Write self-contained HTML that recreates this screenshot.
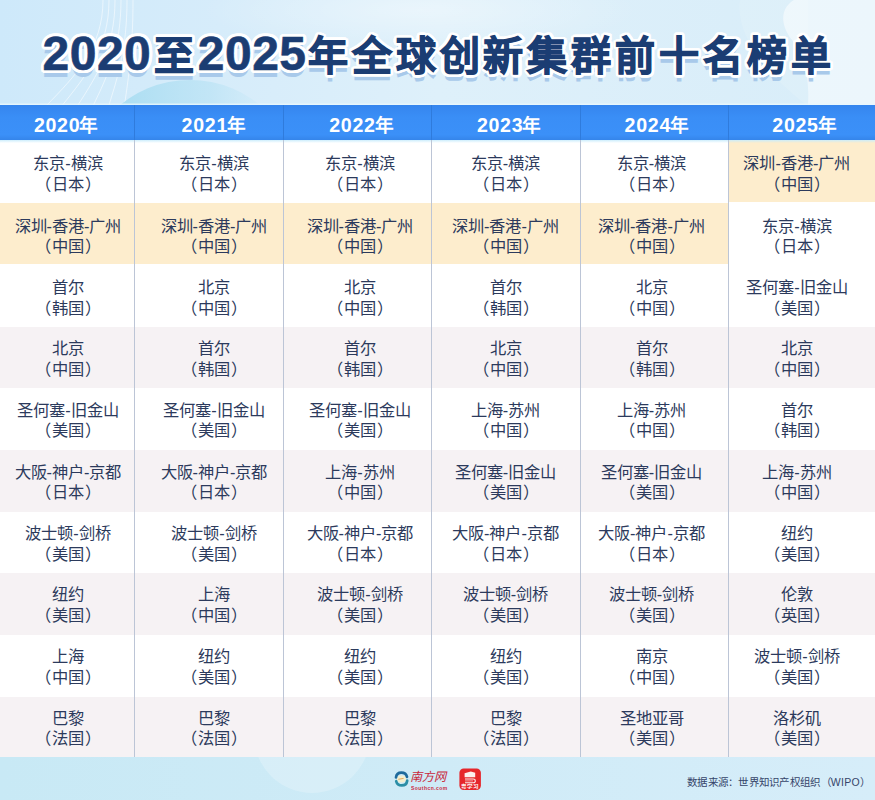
<!DOCTYPE html>
<html lang="zh-CN">
<head>
<meta charset="utf-8">
<title>2020至2025年全球创新集群前十名榜单</title>
<style>
html,body{margin:0;padding:0;}
body{width:875px;height:800px;overflow:hidden;position:relative;background:#d4e9f8;font-family:"Liberation Sans",sans-serif;}
#bg{position:absolute;left:0;top:0;}
#title{position:absolute;left:41.2px;top:21.5px;height:64px;white-space:nowrap;color:#1b3d73;font-weight:900;font-size:40px;line-height:64px;letter-spacing:3.9px;text-shadow:3.20px 0.00px 0 #fff,3.09px 0.83px 0 #fff,2.77px 1.60px 0 #fff,2.26px 2.26px 0 #fff,1.60px 2.77px 0 #fff,0.83px 3.09px 0 #fff,0.00px 3.20px 0 #fff,-0.83px 3.09px 0 #fff,-1.60px 2.77px 0 #fff,-2.26px 2.26px 0 #fff,-2.77px 1.60px 0 #fff,-3.09px 0.83px 0 #fff,-3.20px 0.00px 0 #fff,-3.09px -0.83px 0 #fff,-2.77px -1.60px 0 #fff,-2.26px -2.26px 0 #fff,-1.60px -2.77px 0 #fff,-0.83px -3.09px 0 #fff,-0.00px -3.20px 0 #fff,0.83px -3.09px 0 #fff,1.60px -2.77px 0 #fff,2.26px -2.26px 0 #fff,2.77px -1.60px 0 #fff,3.09px -0.83px 0 #fff,2.00px 0.00px 0 #fff,1.73px 1.00px 0 #fff,1.00px 1.73px 0 #fff,0.00px 2.00px 0 #fff,-1.00px 1.73px 0 #fff,-1.73px 1.00px 0 #fff,-2.00px 0.00px 0 #fff,-1.73px -1.00px 0 #fff,-1.00px -1.73px 0 #fff,-0.00px -2.00px 0 #fff,1.00px -1.73px 0 #fff,1.73px -1.00px 0 #fff,0 7px 0 #a8c9ea;-webkit-text-stroke:1.1px #1b3d73;}
#title .z{position:relative;left:1.7px;}
#title .n{-webkit-text-stroke:0.6px #1b3d73;font-size:48px;font-weight:bold;letter-spacing:0.5px;margin:0 1.3px;position:relative;top:0.2px;}
#head{position:absolute;left:0;top:105px;width:875px;height:35px;background:linear-gradient(#3585ee 0,#3a8ef6 35%,#3b90f8 85%,#3585ea 100%);}
#head div{position:absolute;top:0.2px;height:34px;line-height:40px;width:140px;margin-left:-70px;text-align:center;color:#fff;font-weight:bold;font-size:19.6px;letter-spacing:0.7px;}
#head div b{font-size:18.6px;letter-spacing:0;position:relative;top:-0.3px;margin-left:-0.8px;}
.vl{position:absolute;width:1px;background:#bcc5d6;top:140px;height:617px;}
#glow{position:absolute;left:0;top:140px;width:875px;height:3px;background:linear-gradient(rgba(200,236,252,0.9),rgba(200,236,252,0));}
.hvl{position:absolute;width:1px;background:#2f7bdc;top:105px;height:35px;}
.row{position:absolute;left:0;width:875px;}
.cell{position:absolute;}
.t i{font-style:normal;margin:0 1px;}
.t{position:absolute;width:160px;margin-left:-80px;text-align:center;color:#2c3a5c;font-size:16.3px;line-height:20.5px;font-weight:500;white-space:nowrap;}
#src{position:absolute;left:687px;top:774.2px;font-size:10.5px;letter-spacing:0.27px;color:#36456a;line-height:16px;white-space:nowrap;}
#logo{position:absolute;left:390px;top:764px;}
#nfw{position:absolute;left:410px;top:766.5px;width:40px;font-family:"Liberation Serif",serif;font-weight:normal;font-style:italic;color:#c9283c;font-size:12.2px;line-height:20px;white-space:nowrap;letter-spacing:0.2px;}
#scn{position:absolute;left:410.5px;top:783px;width:80px;height:10px;font-weight:bold;color:#cc2a3e;font-size:10px;line-height:10px;letter-spacing:0.9px;white-space:nowrap;transform:scale(0.5);transform-origin:0 50%;}
#yxx{position:absolute;left:459.4px;top:781.7px;width:38.4px;height:10px;text-align:center;font-weight:bold;color:#fff;font-size:10px;line-height:10px;white-space:nowrap;transform:scale(0.56,0.44);transform-origin:0 50%;}
</style>
</head>
<body>
<svg id="bg" width="875" height="800" viewBox="0 0 875 800">
<defs>
<linearGradient id="g0" x1="0" y1="0" x2="1" y2="0"><stop offset="0" stop-color="#cee9fa"/><stop offset="0.25" stop-color="#d6ecfa"/><stop offset="0.5" stop-color="#def0fa"/><stop offset="1" stop-color="#d8edf9"/></linearGradient>
<linearGradient id="gd" x1="0" y1="0" x2="1" y2="0"><stop offset="0" stop-color="#a0daf0" stop-opacity="1"/><stop offset="0.6" stop-color="#b8e2f4" stop-opacity="0.65"/><stop offset="1" stop-color="#d8eefa" stop-opacity="0.1"/></linearGradient>
<radialGradient id="gw" cx="0.5" cy="0.5" r="0.5"><stop offset="0" stop-color="#fff" stop-opacity="0.75"/><stop offset="1" stop-color="#fff" stop-opacity="0"/></radialGradient>
<linearGradient id="gf" x1="0" y1="0" x2="1" y2="0"><stop offset="0" stop-color="#c8e9f5"/><stop offset="0.5" stop-color="#cfebf7"/><stop offset="1" stop-color="#d6edf9"/></linearGradient>
</defs>
<rect x="0" y="0" width="875" height="140" fill="url(#g0)"/>
<path d="M794 0 C780 8 780 25 792 40 C803 55 810 75 808 106 L875 106 L875 0 Z" fill="#fff" fill-opacity="0.5"/>
<path d="M740 0 C735 30 760 70 808 106 L808 0 Z" fill="#fff" fill-opacity="0.12"/>
<ellipse cx="420" cy="10" rx="220" ry="40" fill="url(#gw)" opacity="0.5"/>
<g fill="none" stroke="#fff" stroke-opacity="0.6" stroke-width="0.9">
<path d="M103 0 C103 48 75 76 47 105"/><path d="M109 0 C109 48 85.75 76 62.5 105"/><path d="M115 0 C115 48 96.5 76 78 105"/><path d="M121 0 C121 48 107.25 76 93.5 105"/><path d="M127 0 C127 48 118 76 109 105"/><path d="M133 0 C133 48 128.75 76 124.5 105"/>
</g>
<circle cx="190" cy="190" r="110" fill="url(#gd)"/>
<rect x="0" y="757" width="875" height="43" fill="url(#gf)"/>
<circle cx="312" cy="735" r="58" fill="#fff" fill-opacity="0.22"/>
<rect x="0" y="103.5" width="875" height="2" fill="#eaf7fd" fill-opacity="0.8"/>
</svg>
<div id="title"><span class="n">2020</span><span class="z">至</span><span class="n">2025</span>年全球创新集群前十名榜单</div>
<div class="row" style="top:140px;height:62.5px;background:#ffffff"></div>
<div class="row" style="top:202.5px;height:61.8px;background:#ffffff"></div>
<div class="row" style="top:264.3px;height:62.3px;background:#ffffff"></div>
<div class="row" style="top:326.6px;height:61.4px;background:#f6f2f4"></div>
<div class="row" style="top:388px;height:62px;background:#ffffff"></div>
<div class="row" style="top:450px;height:61.5px;background:#f6f2f4"></div>
<div class="row" style="top:511.5px;height:61.8px;background:#ffffff"></div>
<div class="row" style="top:573.3px;height:61.7px;background:#f6f2f4"></div>
<div class="row" style="top:635px;height:61.5px;background:#ffffff"></div>
<div class="row" style="top:696.5px;height:60.5px;background:#f6f2f4"></div>
<div class="cell" style="left:0;top:202.5px;width:729px;height:61.8px;background:#fdedcd"></div>
<div class="cell" style="left:729px;top:140px;width:146px;height:61.5px;background:#fdedcd"></div>
<div id="glow"></div>
<div id="head"><div style="left:66.2px">2020<b>年</b></div><div style="left:213.9px">2021<b>年</b></div><div style="left:361.5px">2022<b>年</b></div><div style="left:509.2px">2023<b>年</b></div><div style="left:656.9px">2024<b>年</b></div><div style="left:804.6px">2025<b>年</b></div></div>
<div class="vl" style="left:134px"></div><div class="hvl" style="left:134px"></div>
<div class="vl" style="left:283px"></div><div class="hvl" style="left:283px"></div>
<div class="vl" style="left:431px"></div><div class="hvl" style="left:431px"></div>
<div class="vl" style="left:580px"></div><div class="hvl" style="left:580px"></div>
<div class="vl" style="left:728px"></div><div class="hvl" style="left:728px"></div>
<div class="t" style="left:68px;top:153.4px">东京-横滨<br>（<i>日本</i>）</div>
<div class="t" style="left:68px;top:215.65px">深圳-香港-广州<br>（<i>中国</i>）</div>
<div class="t" style="left:68px;top:277.2px">首尔<br>（<i>韩国</i>）</div>
<div class="t" style="left:68px;top:338.05px">北京<br>（<i>中国</i>）</div>
<div class="t" style="left:68px;top:399.75px">圣何塞-旧金山<br>（<i>美国</i>）</div>
<div class="t" style="left:68px;top:461.5px">大阪-神户-京都<br>（<i>日本</i>）</div>
<div class="t" style="left:68px;top:523.35px">波士顿-剑桥<br>（<i>美国</i>）</div>
<div class="t" style="left:68px;top:584.1px">纽约<br>（<i>美国</i>）</div>
<div class="t" style="left:68px;top:646.2px">上海<br>（<i>中国</i>）</div>
<div class="t" style="left:68px;top:707.5px">巴黎<br>（<i>法国</i>）</div>
<div class="t" style="left:214px;top:153.4px">东京-横滨<br>（<i>日本</i>）</div>
<div class="t" style="left:214px;top:215.65px">深圳-香港-广州<br>（<i>中国</i>）</div>
<div class="t" style="left:214px;top:277.2px">北京<br>（<i>中国</i>）</div>
<div class="t" style="left:214px;top:338.05px">首尔<br>（<i>韩国</i>）</div>
<div class="t" style="left:214px;top:399.75px">圣何塞-旧金山<br>（<i>美国</i>）</div>
<div class="t" style="left:214px;top:461.5px">大阪-神户-京都<br>（<i>日本</i>）</div>
<div class="t" style="left:214px;top:523.35px">波士顿-剑桥<br>（<i>美国</i>）</div>
<div class="t" style="left:214px;top:584.1px">上海<br>（<i>中国</i>）</div>
<div class="t" style="left:214px;top:646.2px">纽约<br>（<i>美国</i>）</div>
<div class="t" style="left:214px;top:707.5px">巴黎<br>（<i>法国</i>）</div>
<div class="t" style="left:360px;top:153.4px">东京-横滨<br>（<i>日本</i>）</div>
<div class="t" style="left:360px;top:215.65px">深圳-香港-广州<br>（<i>中国</i>）</div>
<div class="t" style="left:360px;top:277.2px">北京<br>（<i>中国</i>）</div>
<div class="t" style="left:360px;top:338.05px">首尔<br>（<i>韩国</i>）</div>
<div class="t" style="left:360px;top:399.75px">圣何塞-旧金山<br>（<i>美国</i>）</div>
<div class="t" style="left:360px;top:461.5px">上海-苏州<br>（<i>中国</i>）</div>
<div class="t" style="left:360px;top:523.35px">大阪-神户-京都<br>（<i>日本</i>）</div>
<div class="t" style="left:360px;top:584.1px">波士顿-剑桥<br>（<i>美国</i>）</div>
<div class="t" style="left:360px;top:646.2px">纽约<br>（<i>美国</i>）</div>
<div class="t" style="left:360px;top:707.5px">巴黎<br>（<i>法国</i>）</div>
<div class="t" style="left:505.5px;top:153.4px">东京-横滨<br>（<i>日本</i>）</div>
<div class="t" style="left:505.5px;top:215.65px">深圳-香港-广州<br>（<i>中国</i>）</div>
<div class="t" style="left:505.5px;top:277.2px">首尔<br>（<i>韩国</i>）</div>
<div class="t" style="left:505.5px;top:338.05px">北京<br>（<i>中国</i>）</div>
<div class="t" style="left:505.5px;top:399.75px">上海-苏州<br>（<i>中国</i>）</div>
<div class="t" style="left:505.5px;top:461.5px">圣何塞-旧金山<br>（<i>美国</i>）</div>
<div class="t" style="left:505.5px;top:523.35px">大阪-神户-京都<br>（<i>日本</i>）</div>
<div class="t" style="left:505.5px;top:584.1px">波士顿-剑桥<br>（<i>美国</i>）</div>
<div class="t" style="left:505.5px;top:646.2px">纽约<br>（<i>美国</i>）</div>
<div class="t" style="left:505.5px;top:707.5px">巴黎<br>（<i>法国</i>）</div>
<div class="t" style="left:651.5px;top:153.4px">东京-横滨<br>（<i>日本</i>）</div>
<div class="t" style="left:651.5px;top:215.65px">深圳-香港-广州<br>（<i>中国</i>）</div>
<div class="t" style="left:651.5px;top:277.2px">北京<br>（<i>中国</i>）</div>
<div class="t" style="left:651.5px;top:338.05px">首尔<br>（<i>韩国</i>）</div>
<div class="t" style="left:651.5px;top:399.75px">上海-苏州<br>（<i>中国</i>）</div>
<div class="t" style="left:651.5px;top:461.5px">圣何塞-旧金山<br>（<i>美国</i>）</div>
<div class="t" style="left:651.5px;top:523.35px">大阪-神户-京都<br>（<i>日本</i>）</div>
<div class="t" style="left:651.5px;top:584.1px">波士顿-剑桥<br>（<i>美国</i>）</div>
<div class="t" style="left:651.5px;top:646.2px">南京<br>（<i>中国</i>）</div>
<div class="t" style="left:651.5px;top:707.5px">圣地亚哥<br>（<i>美国</i>）</div>
<div class="t" style="left:796.9px;top:153.4px">深圳-香港-广州<br>（<i>中国</i>）</div>
<div class="t" style="left:796.9px;top:215.65px">东京-横滨<br>（<i>日本</i>）</div>
<div class="t" style="left:796.9px;top:277.2px">圣何塞-旧金山<br>（<i>美国</i>）</div>
<div class="t" style="left:796.9px;top:338.05px">北京<br>（<i>中国</i>）</div>
<div class="t" style="left:796.9px;top:399.75px">首尔<br>（<i>韩国</i>）</div>
<div class="t" style="left:796.9px;top:461.5px">上海-苏州<br>（<i>中国</i>）</div>
<div class="t" style="left:796.9px;top:523.35px">纽约<br>（<i>美国</i>）</div>
<div class="t" style="left:796.9px;top:584.1px">伦敦<br>（<i>英国</i>）</div>
<div class="t" style="left:796.9px;top:646.2px">波士顿-剑桥<br>（<i>美国</i>）</div>
<div class="t" style="left:796.9px;top:707.5px">洛杉矶<br>（<i>美国</i>）</div>
<svg id="logo" width="100" height="30" viewBox="390 764 100 30">
<ellipse cx="401.5" cy="779" rx="4.6" ry="3.4" fill="#f4efcf"/>
<path d="M398.3 779.3 L403.6 778.4" stroke="#e3a04a" stroke-width="0.9" fill="none"/>
<path d="M396 777.4 C396.4 774.4 398.6 772.7 401.4 772.7 C404.2 772.7 406.4 774.3 407 776.9" fill="none" stroke="#1f6a9c" stroke-width="2.7" stroke-linecap="round"/>
<path d="M407.2 780.7 C406.8 783.7 404.6 785.4 401.8 785.4 C399 785.4 396.8 783.8 396.2 781.2" fill="none" stroke="#2b8ea6" stroke-width="2.7" stroke-linecap="round"/>
<rect x="459.4" y="768.4" width="21.5" height="21.5" rx="4.3" fill="#e6262b"/>
<path d="M464.6 773.3 L470.8 771.6 L475.2 772.8 L475.2 777.3 L464.6 777.3 Z" fill="#fff" fill-opacity="0.92"/>
<path d="M465 779 L473.2 779 C476 779 476 782.8 473.2 782.8 L465 782.8" fill="none" stroke="#fff" stroke-opacity="0.92" stroke-width="1.1"/>
<path d="M465 780.9 L473 780.9" fill="none" stroke="#fff" stroke-opacity="0.7" stroke-width="0.8"/>
</svg>
<div id="nfw">南方网</div>
<div id="scn">Southcn.com</div>
<div id="yxx">粤学习</div>
<div id="src">数据来源：世界知识产权组织（WIPO）</div>
</body>
</html>
